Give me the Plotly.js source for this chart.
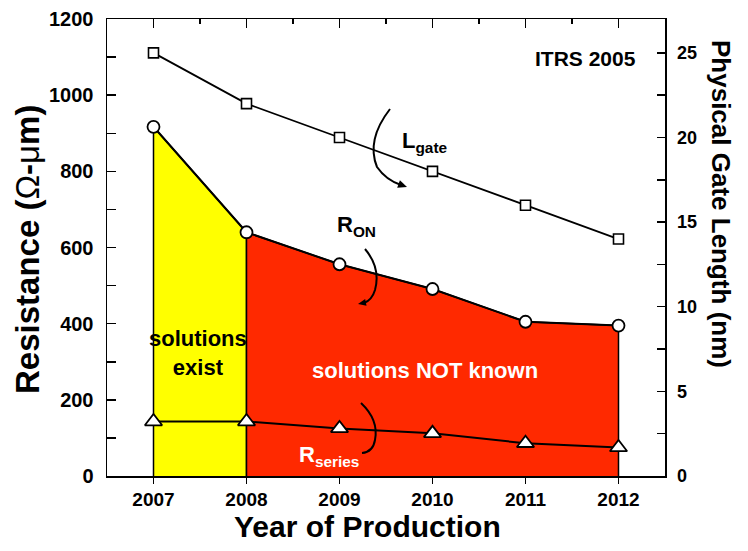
<!DOCTYPE html>
<html><head><meta charset="utf-8">
<script src="https://cdn.plot.ly/plotly-3.0.1.min.js"></script>
<style>html,body{margin:0;padding:0;background:#fff}</style>
</head><body>
<div id="chart" style="width:748px;height:551px"></div>
<script>
// ---- data ----
const years = [2007, 2008, 2009, 2010, 2011, 2012];
const yearLabels = ['2007', '2008', '2009', '2010', '2011', '2012'];
const rOn = [917, 640, 556, 491, 405, 395];          // Ω-µm
const rSeries = [143, 143, 125, 112, 86, 75];        // Ω-µm
const lGate = [25, 22, 20, 18, 16, 14];              // nm
const existYears = years.slice(0, 2);
const unknownYears = years.slice(1);

// ---- layout geometry ----
const W = 748, H = 551;
const L = 107, R = 665, T = 19, B = 476;
const XR = [2006.5, 2012.5], YR = [0, 1200], Y2R = [0, 27];
const FONT = '"Liberation Sans", Arial, Helvetica, sans-serif';
const YELLOW = '#FFFF00', RED = '#FF2900';

function dx(px) { return XR[0] + (px - L) / (R - L) * (XR[1] - XR[0]); }
function dy(py) { return YR[0] + (B - py) / (B - T) * (YR[1] - YR[0]); }
function pt(px, py) { return dx(px).toFixed(4) + ',' + dy(py).toFixed(2); }
function pxX(px) { return (px - L) / (R - L); }
function pxY(py) { return (B - py) / (B - T); }
function head(tx, ty, fx, fy, len, hw) {
  const vx = tx - fx, vy = ty - fy, n = Math.hypot(vx, vy);
  const ux = vx / n, uy = vy / n;
  const bx = tx - ux * len, by = ty - uy * len;
  const p1 = [bx - uy * hw, by + ux * hw], p2 = [bx + uy * hw, by - ux * hw];
  return 'M' + pt(tx, ty) + ' L' + pt(p1[0], p1[1]) + ' L' + pt(p2[0], p2[1]) + ' Z';
}

// ---- traces ----
const yellowFill = {
  x: [existYears[0]].concat(existYears, [existYears[existYears.length - 1]]),
  y: [0].concat(rOn.slice(0, 2), [0]),
  mode: 'lines', fill: 'toself', fillcolor: YELLOW,
  line: { color: '#000', width: 1.5 }, hoverinfo: 'skip'
};
const redFill = {
  x: [unknownYears[0]].concat(unknownYears, [unknownYears[unknownYears.length - 1]]),
  y: [0].concat(rOn.slice(1), [0]),
  mode: 'lines', fill: 'toself', fillcolor: RED,
  line: { color: '#000', width: 1.5 }, hoverinfo: 'skip'
};
const seriesTrace = {
  x: years, y: rSeries, mode: 'lines+markers',
  line: { color: '#000', width: 2 },
  marker: { symbol: 'triangle-up', size: 15, color: '#fff', line: { color: '#000', width: 1.8 } },
  cliponaxis: false
};
const onTrace = {
  x: years, y: rOn, mode: 'lines+markers',
  line: { color: '#000', width: 2 },
  marker: { symbol: 'circle', size: 12, color: '#fff', line: { color: '#000', width: 1.8 } },
  cliponaxis: false
};
const gateTrace = {
  x: years, y: lGate, xaxis: 'x2', yaxis: 'y2', mode: 'lines+markers',
  line: { color: '#000', width: 1.8 },
  marker: { symbol: 'square', size: 10, color: '#fff', line: { color: '#000', width: 1.6 } },
  cliponaxis: false
};

// ---- decorative curved arrows ----
const arrowStyle = { color: '#000', width: 2 };
const shapes = [
  { type: 'path', xref: 'x', yref: 'y', line: arrowStyle,
    path: 'M' + pt(390, 109) + ' Q' + pt(366, 140) + ' ' + pt(377, 167) + ' Q' + pt(386, 180) + ' ' + pt(401, 185) },
  { type: 'path', xref: 'x', yref: 'y', line: { width: 0 }, fillcolor: '#000',
    path: head(407, 187, 396, 183, 9, 4) },
  { type: 'path', xref: 'x', yref: 'y', line: arrowStyle,
    path: 'M' + pt(365, 249) + ' Q' + pt(381, 268) + ' ' + pt(375, 290) + ' Q' + pt(372, 300) + ' ' + pt(364, 303) },
  { type: 'path', xref: 'x', yref: 'y', line: { width: 0 }, fillcolor: '#000',
    path: head(358, 304, 368, 302, 8, 3.5) },
  { type: 'path', xref: 'x', yref: 'y', line: arrowStyle,
    path: 'M' + pt(361, 403) + ' Q' + pt(379, 420) + ' ' + pt(375, 440) + ' Q' + pt(373, 452) + ' ' + pt(362, 453) }
];

// ---- annotations ----
function ann(text, px, py, size, opts) {
  return Object.assign({
    text: text, xref: 'paper', yref: 'paper', x: pxX(px), y: pxY(py),
    xanchor: 'center', yanchor: 'middle', showarrow: false,
    font: { family: FONT, size: size, color: '#000', weight: 'bold' }
  }, opts || {});
}
const annotations = [
  ann('Year of Production', 367, 526, 30),
  ann('<b>Resistance (</b>Ω<b>-</b>μ<b>m)</b>', 28, 250, 33,
      { textangle: -90, font: { family: FONT, size: 33, color: '#000', weight: 'normal' } }),
  ann('Physical Gate Length (nm)', 721, 204, 26, { textangle: 90 }),
  ann('ITRS 2005', 585, 58, 21),
  ann('L<sub>gate</sub>', 400, 142, 22, { xanchor: 'left' }),
  ann('R<sub>ON</sub>', 335, 226, 22, { xanchor: 'left' }),
  ann('R<sub>series</sub>', 297, 456, 22, { xanchor: 'left', font: { family: FONT, size: 22, color: '#fff', weight: 'bold' } }),
  ann('solutions<br>exist', 198, 353, 22),
  ann('solutions NOT known', 425, 370, 22, { font: { family: FONT, size: 22, color: '#fff', weight: 'bold' } })
];

const axisCommon = {
  showgrid: false, zeroline: false, showline: true, linecolor: '#000', linewidth: 1.5,
  tickcolor: '#000', tickwidth: 1.5
};

const layout = {
  width: W, height: H,
  margin: { l: L, r: W - R, t: T, b: H - B, pad: 0 },
  paper_bgcolor: '#fff', plot_bgcolor: '#fff',
  showlegend: false,
  font: { family: FONT, color: '#000' },
  xaxis: Object.assign({}, axisCommon, {
    range: XR, tickmode: 'array', tickvals: years, ticktext: yearLabels,
    ticks: 'outside', ticklen: 6,
    tickfont: { family: FONT, size: 19, color: '#000', weight: 'bold' }
  }),
  xaxis2: Object.assign({}, axisCommon, {
    range: XR, overlaying: 'x', side: 'top', anchor: 'y',
    tickmode: 'linear', tick0: years[0], dtick: 1,
    ticks: 'inside', ticklen: 9, showticklabels: false,
    minor: { ticks: 'inside', ticklen: 5, dtick: 0.5, tickcolor: '#000', tickwidth: 1.5 }
  }),
  yaxis: Object.assign({}, axisCommon, {
    range: YR, tickmode: 'linear', tick0: 0, dtick: 200,
    ticks: 'inside', ticklen: 9, ticklabelstandoff: 8,
    minor: { ticks: 'inside', ticklen: 9, dtick: 100, tickcolor: '#000', tickwidth: 1.5 },
    tickfont: { family: FONT, size: 20, color: '#000', weight: 'bold' }
  }),
  yaxis2: Object.assign({}, axisCommon, {
    range: Y2R, overlaying: 'y', side: 'right', anchor: 'x',
    tickmode: 'linear', tick0: 0, dtick: 5,
    ticks: 'inside', ticklen: 8, ticklabelstandoff: 7,
    minor: { ticks: 'inside', ticklen: 8, dtick: 2.5, tickcolor: '#000', tickwidth: 1.5 },
    tickfont: { family: FONT, size: 18, color: '#000', weight: 'bold' }
  }),
  shapes: shapes,
  annotations: annotations
};

Plotly.newPlot('chart', [yellowFill, redFill, seriesTrace, onTrace, gateTrace], layout,
  { staticPlot: true, displayModeBar: false });
</script>
</body></html>
